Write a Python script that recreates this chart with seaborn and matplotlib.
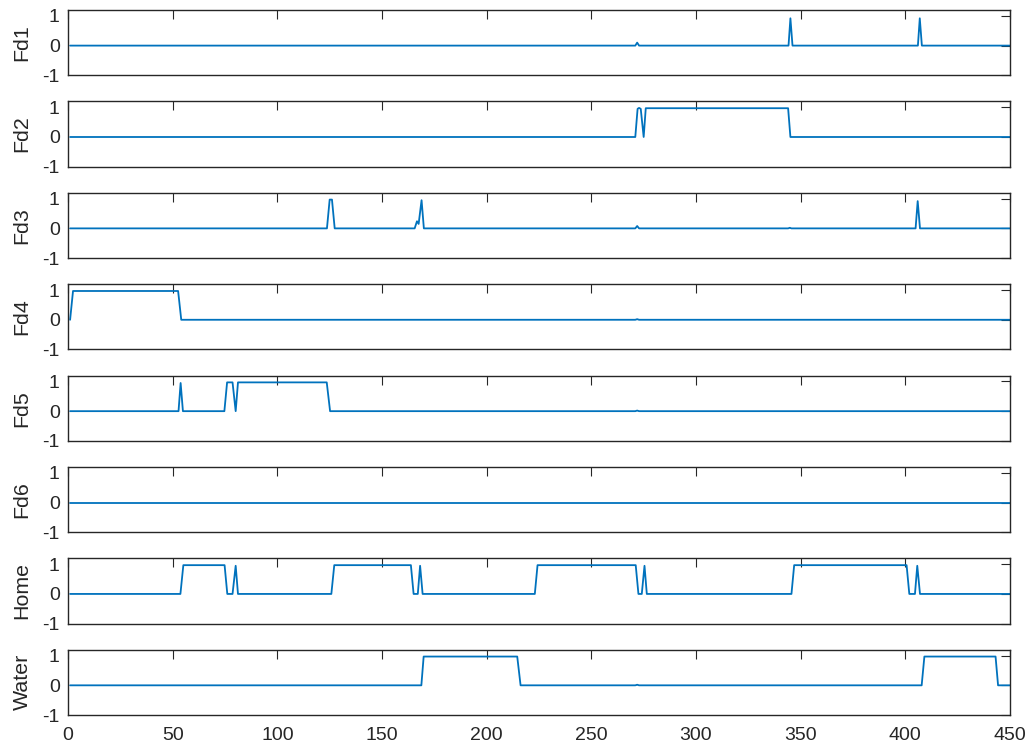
import numpy as np
import pandas as pd
import matplotlib
matplotlib.use("Agg")
import matplotlib.pyplot as plt
import seaborn as sns

# ---------------- data ----------------
x_ticks = [0, 50, 100, 150, 200, 250, 300, 350, 400, 450]
y_ticks = [-1, 0, 1]
labels = ["Fd1", "Fd2", "Fd3", "Fd4", "Fd5", "Fd6", "Home", "Water"]

fd1_x = [1, 271, 271.9, 272.8, 344.2, 345.1, 346.1, 406, 406.9, 407.9, 450]
fd1_y = [0, 0, 0.1, 0, 0, 0.92, 0, 0, 0.92, 0, 0]

fd2_x = [1, 271.0, 272.1, 272.8, 273.6, 275.0, 276.0, 344.0, 345.1, 450]
fd2_y = [0, 0, 0.95, 0.98, 0.95, 0, 0.97, 0.97, 0, 0]

fd3_x = [1, 123.7, 125.0, 126.1, 127.4, 165.6, 166.7, 167.5, 168.9, 170.0,
         271, 271.9, 272.8, 344, 344.8, 345.6, 404.9, 405.9, 407.0, 450]
fd3_y = [0, 0, 0.97, 0.97, 0, 0, 0.24, 0.15, 0.95, 0,
         0, 0.08, 0, 0, 0.02, 0, 0, 0.92, 0, 0]

fd4_x = [1, 2.4, 52.6, 54.1, 271, 271.9, 272.8, 450]
fd4_y = [0, 0.97, 0.97, 0, 0, 0.02, 0, 0]

fd5_x = [1, 52.8, 53.8, 54.9, 74.7, 76.0, 78.6, 80.1, 81.2, 123.6, 125.2,
         271, 271.9, 272.8, 450]
fd5_y = [0, 0, 0.95, 0, 0, 0.97, 0.97, 0, 0.97, 0.97, 0,
         0, 0.02, 0, 0]

fd6_x = [1, 450]
fd6_y = [0, 0]

home_x = [1, 53.7, 55.1, 74.8, 76.1, 78.6, 80.1, 81.2, 125.8, 127.2, 163.8,
          165.1, 167.1, 168.2, 169.4, 223.0, 224.3, 271.2, 272.5, 274.1,
          275.4, 276.5, 345.6, 346.9, 400.6, 401.9, 404.6, 405.7, 407.0, 450]
home_y = [0, 0, 0.97, 0.97, 0, 0, 0.95, 0, 0, 0.97, 0.97,
          0, 0, 0.95, 0, 0, 0.97, 0.97, 0, 0,
          0.95, 0, 0, 0.97, 0.97, 0, 0, 0.95, 0, 0]

water_x = [1, 168.8, 169.9, 214.6, 216.2, 271, 271.9, 272.8, 407.8, 409.1,
           443.1, 444.3, 450]
water_y = [0, 0, 0.97, 0.97, 0, 0, 0.02, 0, 0, 0.97,
           0.97, 0, 0]

series = [(fd1_x, fd1_y), (fd2_x, fd2_y), (fd3_x, fd3_y), (fd4_x, fd4_y),
          (fd5_x, fd5_y), (fd6_x, fd6_y), (home_x, home_y), (water_x, water_y)]

# ---------------- style ----------------
sns.set_theme(style="white")
plt.rcParams["font.family"] = ["Liberation Sans", "DejaVu Sans"]
axis_col = "#262626"
line_col = "#0072BD"

fig = plt.figure(figsize=(10.28, 7.49), dpi=100)
gs = fig.add_gridspec(8, 1, left=68 / 1028, right=1010 / 1028,
                      top=1 - 10 / 749, bottom=1 - 715 / 749, hspace=0.4)

for i, (lab, (xs, ys)) in enumerate(zip(labels, series)):
    ax = fig.add_subplot(gs[i, 0])
    df = pd.DataFrame({"x": xs, "y": ys})
    sns.lineplot(data=df, x="x", y="y", ax=ax, color=line_col, linewidth=1.3,
                 estimator=None, sort=False)
    ax.set_xlim(0, 450)
    ax.set_ylim(-1, 1.2)
    ax.set_xticks(x_ticks)
    ax.set_yticks(y_ticks)
    ax.set_yticklabels([str(v) for v in y_ticks])
    ax.tick_params(axis="both", direction="in", top=True, right=True,
                   length=6.8, width=0.8, color=axis_col, labelcolor=axis_col,
                   labelsize=14)
    ax.tick_params(axis="y", pad=6)
    ax.tick_params(axis="x", pad=9)
    if i < len(labels) - 1:
        ax.tick_params(axis="x", labelbottom=False)
    ax.set_xlabel("")
    ax.set_ylabel(lab, fontsize=15.4, color=axis_col)
    ax.yaxis.set_label_coords(-0.0388, 0.5)
    for sp in ax.spines.values():
        sp.set_visible(True)
        sp.set_color(axis_col)
        sp.set_linewidth(1.0)
    ax.grid(False)

fig.savefig("out.png", dpi=100, facecolor="white")
